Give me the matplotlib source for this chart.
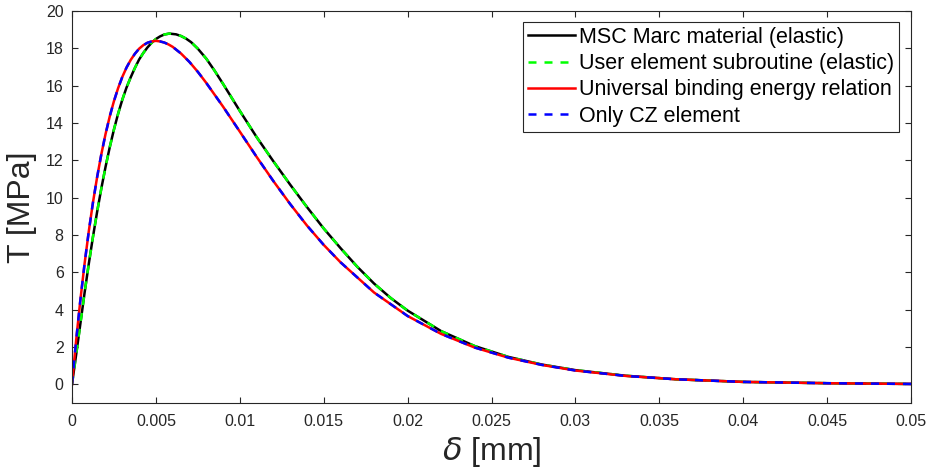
#! /usr/bin/env python3

import matplotlib
matplotlib.use('Agg')
import matplotlib.pyplot as plt
from matplotlib.ticker import FuncFormatter

# traction-separation curves
delta_uber = [0, 0.00025, 0.0005, 0.00075, 0.001, 0.00125, 0.0015, 0.00175, 0.002, 0.00225,
              0.0025, 0.00275, 0.003, 0.00325, 0.0035, 0.00375, 0.004, 0.00425, 0.0045, 0.00475,
              0.005, 0.00525, 0.0055, 0.00575, 0.006, 0.0065, 0.007, 0.0075, 0.008, 0.009,
              0.010, 0.011, 0.012, 0.013, 0.014, 0.015, 0.016, 0.018, 0.020, 0.022,
              0.024, 0.026, 0.028, 0.030, 0.033, 0.036, 0.040, 0.045, 0.050]
t_uber = [0, 2.38, 4.52, 6.46, 8.19, 9.74, 11.11, 12.33, 13.41, 14.35,
          15.17, 15.87, 16.47, 16.97, 17.38, 17.71, 17.98, 18.17, 18.30, 18.37,
          18.40, 18.37, 18.31, 18.21, 18.08, 17.72, 17.27, 16.74, 16.15, 14.88,
          13.54, 12.19, 10.89, 9.66, 8.51, 7.47, 6.54, 4.92, 3.66, 2.70,
          1.97, 1.43, 1.04, 0.74, 0.45, 0.27, 0.13, 0.06, 0.02]
t_cz = [0, 2.38, 4.52, 6.46, 8.19, 9.74, 11.11, 12.33, 13.41, 14.35,
        15.17, 15.87, 16.47, 16.97, 17.38, 17.71, 17.98, 18.17, 18.30, 18.37,
        18.40, 18.37, 18.31, 18.21, 18.08, 17.72, 17.27, 16.74, 16.15, 14.88,
        13.54, 12.19, 10.89, 9.66, 8.51, 7.47, 6.54, 4.92, 3.66, 2.70,
        1.97, 1.43, 1.04, 0.74, 0.45, 0.27, 0.13, 0.06, 0.02]

delta_marc = [0, 0.00025, 0.0005, 0.00075, 0.001, 0.00125, 0.0015, 0.00175, 0.002, 0.00225,
              0.0025, 0.00275, 0.003, 0.00325, 0.0035, 0.00375, 0.004, 0.00425, 0.0045, 0.00475,
              0.005, 0.00525, 0.0055, 0.0058, 0.0062, 0.0065, 0.0068, 0.0071, 0.0075, 0.008,
              0.0085, 0.009, 0.010, 0.011, 0.012, 0.013, 0.014, 0.015, 0.016, 0.017,
              0.018, 0.019, 0.020, 0.022, 0.024, 0.026, 0.028, 0.030, 0.033, 0.036,
              0.040, 0.045, 0.050]
t_marc = [0, 1.6, 3.25, 4.9, 6.45, 7.9, 9.25, 10.5, 11.65, 12.7,
          13.65, 14.5, 15.25, 15.9, 16.45, 16.95, 17.4, 17.75, 18.05, 18.3,
          18.5, 18.64, 18.74, 18.79, 18.75, 18.66, 18.52, 18.33, 17.98, 17.45,
          16.8, 16.1, 14.65, 13.25, 11.95, 10.7, 9.5, 8.35, 7.3, 6.3,
          5.4, 4.62, 3.95, 2.85, 2.05, 1.47, 1.06, 0.76, 0.46, 0.27,
          0.13, 0.06, 0.02]
t_user = [0, 1.6, 3.25, 4.9, 6.45, 7.9, 9.25, 10.5, 11.65, 12.7,
          13.65, 14.5, 15.25, 15.9, 16.45, 16.95, 17.4, 17.75, 18.05, 18.3,
          18.5, 18.64, 18.74, 18.79, 18.75, 18.66, 18.52, 18.33, 17.98, 17.45,
          16.8, 16.1, 14.65, 13.25, 11.95, 10.7, 9.5, 8.35, 7.3, 6.3,
          5.4, 4.62, 3.95, 2.85, 2.05, 1.47, 1.06, 0.76, 0.46, 0.27,
          0.13, 0.06, 0.02]

labels = ['MSC Marc material (elastic)',
          'User element subroutine (elastic)',
          'Universal binding energy relation',
          'Only CZ element']

x_ticks = [0, 0.005, 0.01, 0.015, 0.02, 0.025, 0.03, 0.035, 0.04, 0.045, 0.05]
y_ticks = [0, 2, 4, 6, 8, 10, 12, 14, 16, 18, 20]


def plot_traction(output_path: str):
    plt.rcParams['font.family'] = ['Liberation Sans', 'DejaVu Sans']
    axis_grey = '#262626'

    fig = plt.figure(figsize=(9.3, 4.72), dpi=100)
    ax = fig.add_axes([0.0774, 0.1462, 0.9022, 0.8305])

    lw = 1.8
    ax.plot(delta_marc, t_marc, color='black', lw=lw, label=labels[0])
    ax.plot(delta_marc, t_user, color=(0, 1, 0), lw=lw, dashes=(3.2, 3.2), label=labels[1])
    ax.plot(delta_uber, t_uber, color='red', lw=lw, label=labels[2])
    ax.plot(delta_uber, t_cz, color='blue', lw=lw, dashes=(3.2, 3.2), label=labels[3])

    ax.set_xlim(0, 0.05)
    ax.set_ylim(-1, 20)
    ax.set_xticks(x_ticks)
    ax.set_yticks(y_ticks)
    ax.xaxis.set_major_formatter(FuncFormatter(lambda v, pos: '{0:g}'.format(round(v, 4))))

    ax.tick_params(direction='in', length=4, width=0.8, top=True, right=True,
                   colors=axis_grey, labelsize=11.5)
    ax.tick_params(axis='x', pad=8)
    ax.tick_params(axis='y', pad=6)
    for spine in ax.spines.values():
        spine.set_color(axis_grey)
        spine.set_linewidth(0.8)

    ax.set_xlabel(r'$\delta$ [mm]', fontsize=23, color=axis_grey, labelpad=4)
    ax.set_ylabel('T [MPa]', fontsize=23, color=axis_grey, labelpad=6)

    leg = ax.legend(loc='upper right', bbox_to_anchor=(0.9857, 0.972), borderaxespad=0,
                    fontsize=15.5, handlelength=2.2, handletextpad=0.2, labelspacing=0.25,
                    borderpad=0.22, fancybox=False, framealpha=1)
    leg.get_frame().set_edgecolor(axis_grey)
    leg.get_frame().set_linewidth(0.8)

    plt.savefig(output_path, dpi=100)
    plt.close()


plot_traction('out.png')
